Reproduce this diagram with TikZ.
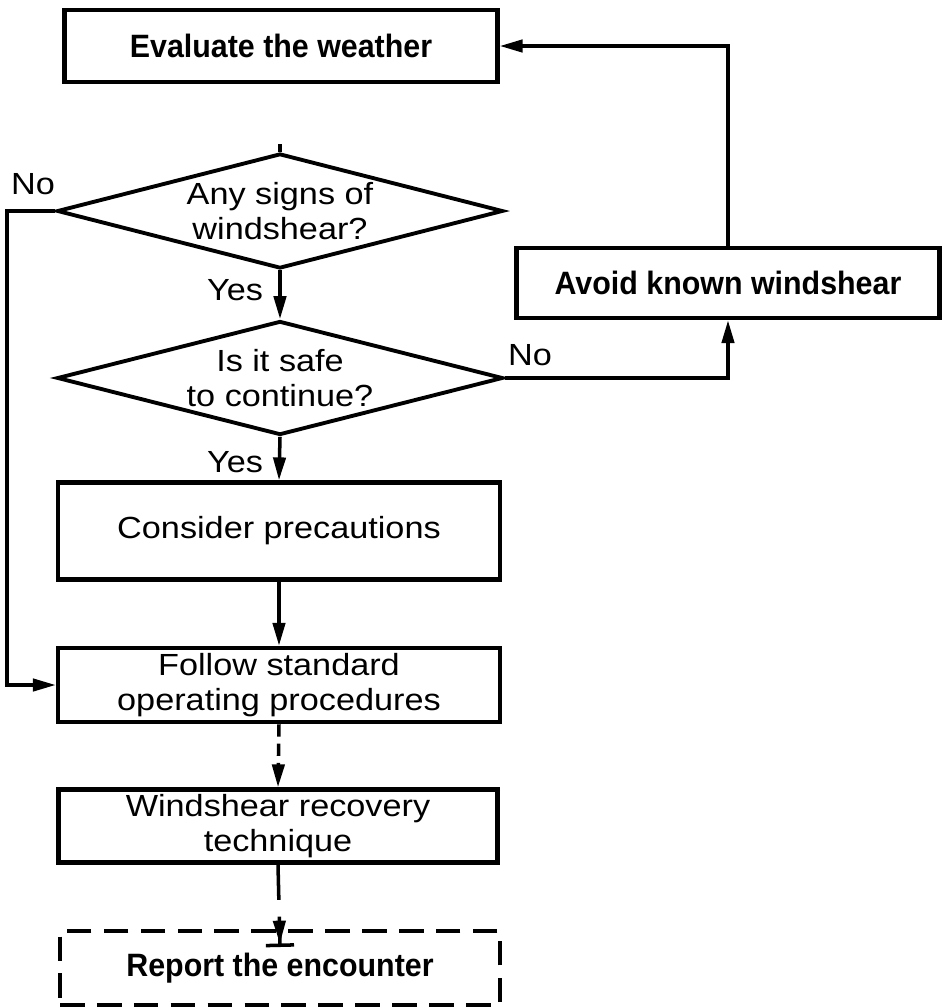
\documentclass[tikz,border=0pt]{standalone}
\usepackage{fontspec}
\setmainfont{Liberation Sans}[FakeStretch=1.12]
\newfontfamily\boxfont{Liberation Sans}[FakeStretch=0.94]
\usetikzlibrary{shapes.geometric,arrows.meta}

\begin{document}
\begin{tikzpicture}[x=0.02cm, y=-0.02cm, line join=miter,
        every node/.style={align=center, inner sep=0pt, font=\fontsize{17.4}{19.5}\selectfont},
        box/.style={draw, line width=2.6pt, minimum width=8.8cm, minimum height=1.46cm},
        boldbox/.style={box, font=\boxfont\bfseries\fontsize{18.4}{21}\selectfont},
        decision/.style={draw, diamond, aspect=3.88, line width=2.2pt, minimum width=8.92cm, minimum height=2.3cm},
        line/.style={line width=2pt},
        arrow/.style={line, -{Triangle[length=13pt, width=7pt]}}]
    \useasboundingbox (0,0) rectangle (944,1008);

    % boxes and decisions
    \node[boldbox, minimum width=8.66cm, minimum height=1.44cm] (eval) at (281,46) {Evaluate the weather};
    \node[decision] (signs) at (280,211) {Any signs of\\windshear?};
    \node[decision, minimum height=2.28cm] (safe) at (280,378) {Is it safe\\to continue?};
    \node[boldbox, minimum width=8.46cm, minimum height=1.4cm] (avoid) at (728,283) {Avoid known windshear};
    \node[box, minimum width=8.84cm, minimum height=1.94cm] (consider) at (279,531) {Consider precautions};
    \node[box, minimum width=8.84cm, minimum height=1.48cm] (follow) at (279,685) {Follow standard\\operating procedures};
    \node[box, minimum width=8.78cm] (recover) at (278,826) {Windshear recovery\\technique};
    \node[boldbox, minimum height=1.48cm, dash pattern=on 14pt off 7pt] (report) at (280,968) {Report the encounter};

    % labels
    \node (noA) at (33,184) {No};
    \node (yesA) at (235,290) {Yes};
    \node (noB) at (530,355) {No};
    \node (yesB) at (235,462) {Yes};

    % connectors
    \coordinate (stub) at (280,144);
    \coordinate (rptin) at (280,947);
    \draw[line] (stub) -- (signs.north);
    \draw[arrow] (signs.west) -- ++(-48,0) |- (follow.west);
    \draw[arrow] (signs.south) -- (safe.north);
    \draw[arrow] (safe.east) -| (avoid.south);
    \draw[arrow] (avoid.north) |- (eval.east);
    \draw[arrow] (safe.south) -- (consider.north);
    \draw[arrow] (consider.south) -- (follow.north);
    \draw[arrow, dash pattern=on 7pt off 4pt] (follow.south) -- (recover.north);
    \draw[line, dash pattern=on 20pt off 9.5pt on 40pt, -{Triangle[length=13pt, width=7pt] Bar[width=16pt]}] (recover.south) -- (rptin);
\end{tikzpicture}
\end{document}
